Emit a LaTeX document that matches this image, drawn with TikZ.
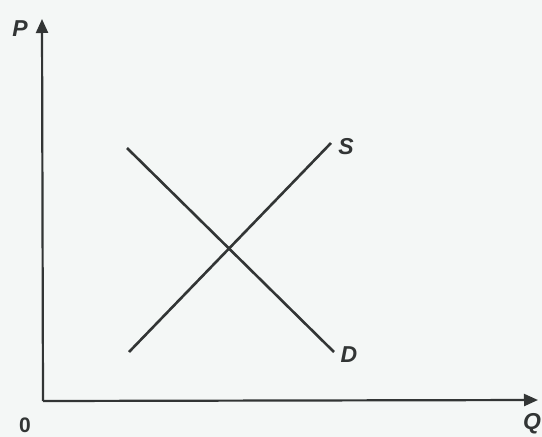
\documentclass[tikz,border=0pt]{standalone}
\usepackage{fontspec}
\setmainfont{Liberation Sans}
\usetikzlibrary{arrows.meta}

\definecolor{paper}{RGB}{244,247,246}
\definecolor{ink}{RGB}{50,53,53}

\tikzset{
    axis/.style={draw=ink, line width=2.2pt, -{Triangle[length=14pt,width=12pt]}},
    curve/.style={draw=ink, line width=2.6pt},
    lbl/.style={text=ink, font=\fontsize{23}{23}\selectfont\bfseries\itshape, inner sep=0pt}
}

\begin{document}
\begin{tikzpicture}[x=1pt, y=-1pt]
            % Paper background
            \fill[paper] (0,0) rectangle (542,437);
            \useasboundingbox (0,0) rectangle (542,437);

            % Corner and ends of the axes
            \coordinate (O) at (43,401);
            \coordinate (Ptop) at (42,19);
            \coordinate (Qend) at (538,400);

            % Draw the axes
            \draw[axis] (O) -- (Ptop);
            \draw[axis] (O) -- (Qend);

            % Axis labels
            \node[lbl] (P) at (20,29) {P};
            \node[lbl] (Q) at (532,424) {Q};
            \node[lbl, font=\fontsize{21}{21}\selectfont\bfseries] (zero) at (25,425) {0};

            % Supply and demand lines
            \coordinate (S1) at (129,352);
            \coordinate (S2) at (331,143);
            \coordinate (D1) at (127,148);
            \coordinate (D2) at (334,352);
            \draw[curve] (S1) -- (S2);
            \draw[curve] (D1) -- (D2);

            % Line labels
            \node[lbl] (S) at (346,147) {S};
            \node[lbl] (D) at (349,355) {D};
        \end{tikzpicture}
\end{document}
